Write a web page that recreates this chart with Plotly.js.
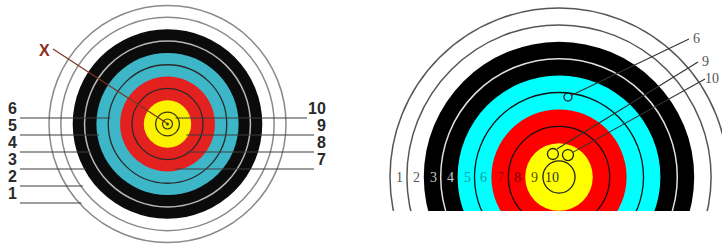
<!DOCTYPE html>
<html>
<head>
<meta charset="utf-8">
<script src="https://cdn.plot.ly/plotly-3.0.1.min.js"></script>
<style>html,body{margin:0;padding:0;background:#fff;}#chart{width:722px;height:249px;}</style>
</head>
<body>
<div id="chart"></div>
<script>
// ---- data ----
const scores = [1, 2, 3, 4, 5, 6, 7, 8, 9, 10];
const leftZoneColors = ['#ffffff', '#ffffff', '#0b0b0b', '#0b0b0b', '#3db6c7', '#3db6c7', '#e3211f', '#e3211f', '#fbf100', '#fbf100'];
const rightZoneColors = ['#ffffff', '#ffffff', '#000000', '#000000', '#00ffff', '#00ffff', '#ff0000', '#ff0000', '#ffff00', '#ffff00'];
const leftCalloutsLeft = [6, 5, 4, 3, 2, 1];
const leftCalloutsRight = [10, 9, 8, 7];
const rowLabels = ['1', '2', '3', '4', '5', '6', '7', '8', '9', '10'];
const rowLabelColors = ['#555555', '#555555', '#c8c8c8', '#c8c8c8', '#1f9a9a', '#1f9a9a', '#a00000', '#700000', '#555500', '#333333'];
const arrowLabels = ['6', '9', '10'];
const arrowDX = [0.53, -0.36, 0.53];   // in ring units from centre
const arrowDY = [-4.73, -1.36, -1.30];

// ---- geometry (layout) ----
const L = {cx: 167.5, cy: 124, u: 11.85};
const R = {cx: 559, cy: 177, u: 16.9};
const shapes = [];
function circ(c, rUnits, fill, line, width) {
  const r = rUnits * c.u;
  shapes.push({type: 'circle', xref: 'x', yref: 'y', layer: 'below',
    x0: c.cx - r, x1: c.cx + r, y0: c.cy - r, y1: c.cy + r,
    fillcolor: fill || 'rgba(0,0,0,0)', line: {color: line || 'rgba(0,0,0,0)', width: line ? width : 0}});
}
// filled zones
scores.forEach((s, i) => circ(L, 11 - s, leftZoneColors[i], null, 0));
scores.forEach((s, i) => circ(R, 11 - s, rightZoneColors[i], null, 0));
// left ring lines
[[10, '#8a8a8a', 1.5], [9, '#8a8a8a', 1.5], [7, '#b8b8b8', 1.5], [5, '#2a2a2a', 1.3], [3, '#2a2a2a', 1.3], [1, '#3a3a10', 1.3], [0.42, '#3a3a10', 1.2]]
  .forEach(d => circ(L, d[0], null, d[1], d[2]));
// right ring lines
[[10, '#555555', 1.5], [9, '#555555', 1.5], [7, '#e0e0e0', 1.5], [5, '#111111', 1.3], [3, '#111111', 1.3], [0.95, '#222222', 1.3]]
  .forEach(d => circ(R, d[0], null, d[1], d[2]));
// cut the right target at the bottom
shapes.push({type: 'rect', xref: 'x', yref: 'y', layer: 'below', x0: 370, x1: 722, y0: 211, y1: 249,
  fillcolor: '#ffffff', line: {width: 0}});

const traces = [];
const annotations = [];
const lineCol = '#3c3c3c';
// left target callouts, left side
leftCalloutsLeft.forEach((s, i) => {
  const y = L.cy - 6 + i * 17;
  const rm = (10.85 - s) * L.u;
  const dy = y - L.cy;
  const xe = L.cx - Math.sqrt(Math.max(rm * rm - dy * dy, 0));
  traces.push({x: [20, xe], y: [y, y], mode: 'lines', line: {color: lineCol, width: 1.2}, hoverinfo: 'skip'});
  annotations.push({x: 6, y: y + 1, xanchor: 'left', yanchor: 'bottom', text: '<b>' + s + '</b>', showarrow: false,
    font: {family: 'Liberation Sans, Arial', size: 16, color: '#2a2a2a'}});
});
// left target callouts, right side
leftCalloutsRight.forEach((s, i) => {
  const y = L.cy - 6 + i * 17;
  const rm = (10.85 - s) * L.u;
  const dy = y - L.cy;
  const xs = L.cx + Math.sqrt(Math.max(rm * rm - dy * dy, 0));
  const xEnd = s === 10 ? 307 : 314;
  traces.push({x: [xs, xEnd], y: [y, y], mode: 'lines', line: {color: lineCol, width: 1.2}, hoverinfo: 'skip'});
  annotations.push({x: 328, y: y + 1, xanchor: 'right', yanchor: 'bottom', text: '<b>' + s + '</b>', showarrow: false,
    font: {family: 'Liberation Sans, Arial', size: 16, color: '#2a2a2a'}});
});
// X callout
traces.push({x: [53, L.cx - 1], y: [49, L.cy - 1], mode: 'lines', line: {color: '#7a3526', width: 1.2}, hoverinfo: 'skip'});
annotations.push({x: 44, y: 50, xanchor: 'center', yanchor: 'middle', text: '<b>X</b>', showarrow: false,
  font: {family: 'Liberation Sans, Arial', size: 16, color: '#8b2e1f'}});
// centre dot
traces.push({x: [L.cx], y: [L.cy], mode: 'markers', marker: {size: 3, color: '#3a3a10'}, hoverinfo: 'skip'});

// right target row labels
scores.forEach((s, i) => {
  annotations.push({x: R.cx - (10.5 - s) * R.u + 1, y: R.cy, xanchor: 'center', yanchor: 'middle', text: rowLabels[i],
    showarrow: false, font: {family: 'Liberation Serif, Times New Roman, serif', size: 14, color: rowLabelColors[i]}});
});
// arrow holes and callouts
const calloutEnds = [[689, 39], [698, 62], [705, 79]];
const holeSizes = [8, 11, 11];
arrowLabels.forEach((lab, i) => {
  const hx = R.cx + arrowDX[i] * R.u, hy = R.cy + arrowDY[i] * R.u;
  const ex = calloutEnds[i][0], ey = calloutEnds[i][1];
  const d = Math.hypot(ex - hx, ey - hy);
  const rr = holeSizes[i] / 2;
  const sx = i === 1 ? hx + 4 : hx + (ex - hx) / d * rr;
  const sy = i === 1 ? hy - 5 : hy + (ey - hy) / d * rr;
  traces.push({x: [sx, ex], y: [sy, ey], mode: 'lines', line: {color: '#333333', width: 1.1}, hoverinfo: 'skip'});
  traces.push({x: [hx], y: [hy], mode: 'markers', marker: {symbol: 'circle-open', size: holeSizes[i], color: '#222222', line: {width: 1.3, color: '#222222'}}, hoverinfo: 'skip'});
  annotations.push({x: i === 2 ? 721 : ex + 2, y: ey - 1, xanchor: i === 2 ? 'right' : 'left', yanchor: 'middle', text: lab, showarrow: false,
    font: {family: 'Liberation Serif, Times New Roman, serif', size: 14, color: '#555555'}});
});

const layout = {
  width: 722, height: 249,
  margin: {l: 0, r: 0, t: 0, b: 0},
  paper_bgcolor: '#ffffff', plot_bgcolor: '#ffffff',
  showlegend: false,
  xaxis: {range: [0, 722], visible: false, fixedrange: true},
  yaxis: {range: [249, 0], visible: false, fixedrange: true},
  shapes: shapes,
  annotations: annotations
};
Plotly.newPlot('chart', traces, layout, {staticPlot: true, displayModeBar: false});
</script>
</body>
</html>
